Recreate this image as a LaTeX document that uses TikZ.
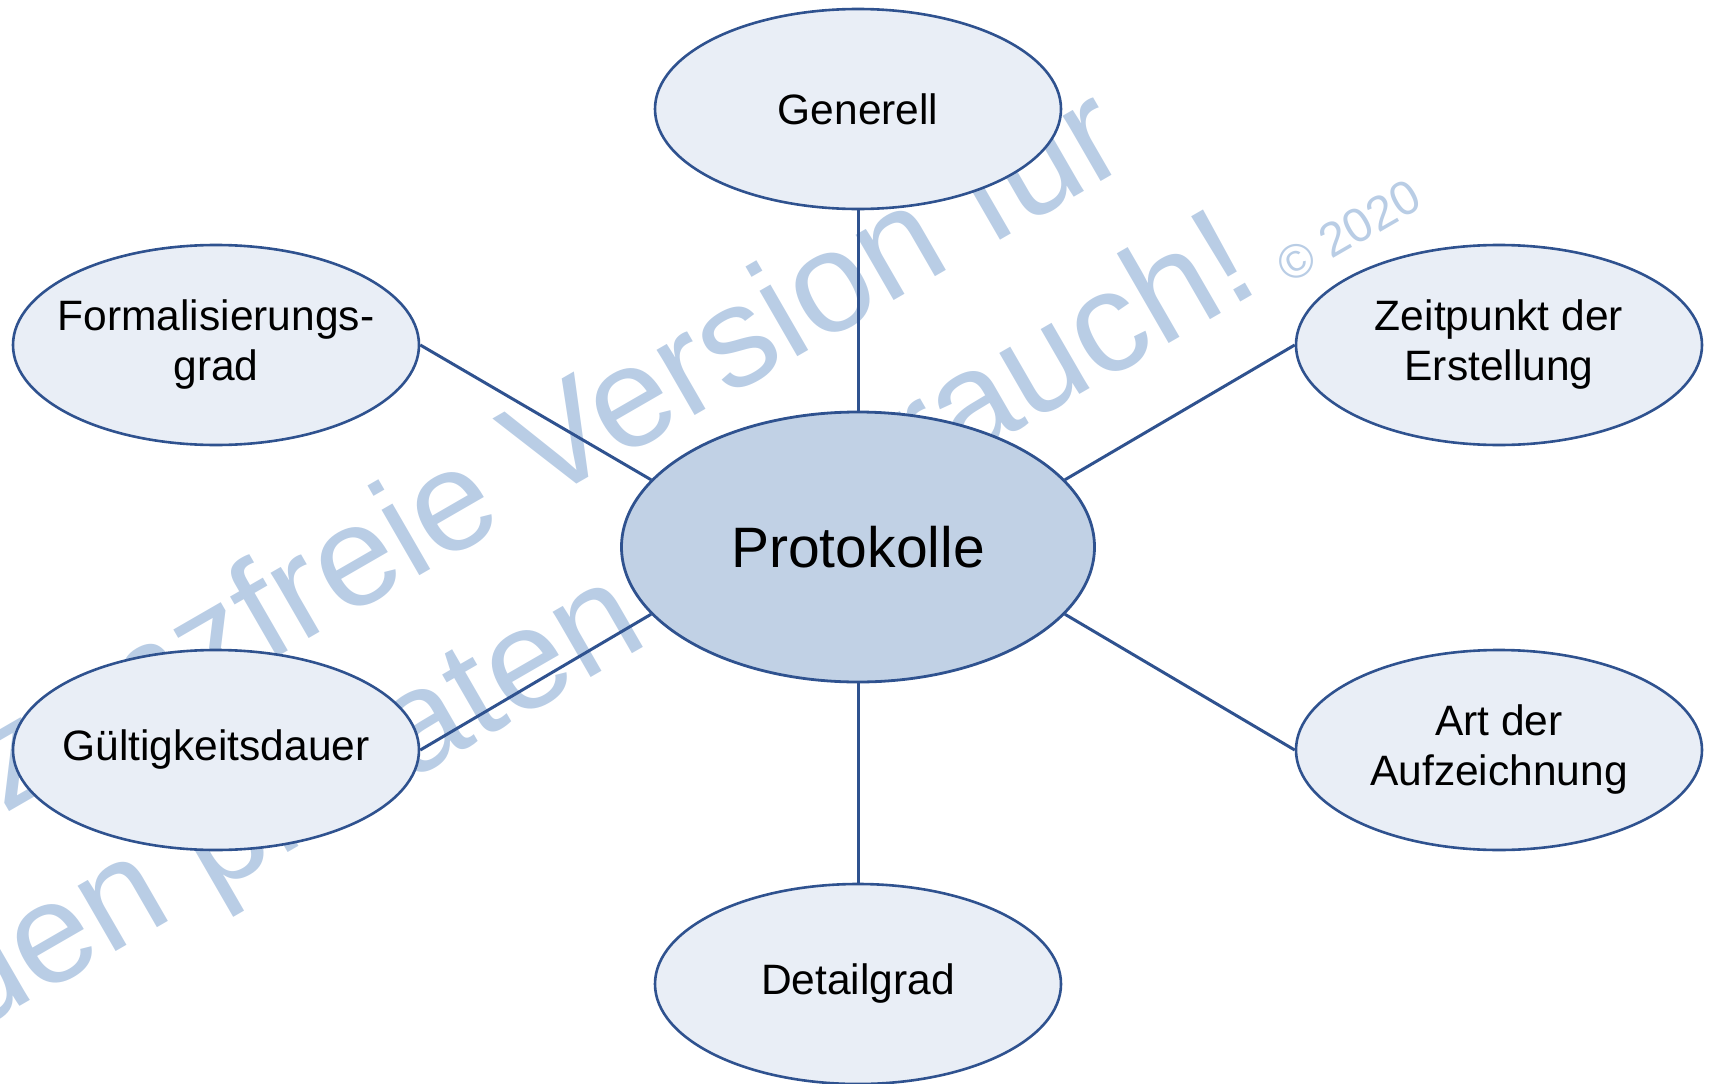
\documentclass[tikz,border=0pt]{standalone}
\usepackage{fontspec}
\setmainfont{Liberation Sans}
\usetikzlibrary{shapes.geometric}

\definecolor{rim}{HTML}{2F528F}
\definecolor{leaffill}{HTML}{E9EEF6}
\definecolor{hubfill}{HTML}{C1D1E5}
\definecolor{wmtext}{HTML}{B9CDE5}

\begin{document}
\begin{tikzpicture}[x=1pt,y=-1pt,
  every node/.style={ellipse,draw=rim,line width=2.6pt,inner sep=0pt,align=center},
  leaf/.style={fill=leaffill,inner xsep=-120pt,minimum width=406pt,minimum height=200pt,font=\fontsize{42.5}{50}\selectfont},
  hub/.style={fill=hubfill,line width=2.8pt,minimum width=473pt,minimum height=270pt,font=\fontsize{57}{66}\selectfont},
  wmark/.style={draw=none,rectangle,text=wmtext,rotate=30,font=\fontsize{143}{165}\selectfont},
  link/.style={draw=rim,line width=3pt}]
\useasboundingbox (0,0) rectangle (1711,1084);

% watermark behind everything
\node[wmark,anchor=base east] (wm1) at (1135,162) {Lizenzfreie Version für};
\node[wmark,anchor=base east] (wm2) at (1265,288) {den privaten Gebrauch!};
\node[wmark,anchor=base west,yshift=-9pt,font=\fontsize{48}{52}\selectfont] (wm3) at (wm2.base east) {\hspace{22pt}© 2020};

\node[leaf]  (gen)    at (858,109)  {Generell};
\node[leaf]  (form)   at (216,345)  {Formalisierungs-\\grad};
\node[leaf]  (zeit)   at (1499,345) {Zeitpunkt der\\Erstellung};
\node[hub]   (prot)   at (858,547)  {Protokolle};
\node[leaf]  (guelt)  at (216,750)  {Gültigkeitsdauer};
\node[leaf]  (art)    at (1499,750) {Art der\\Aufzeichnung};
\node[leaf]  (detail) at (858,984)  {Detailgrad};

\draw[link] (gen) -- (prot);
\draw[link] (form.east) -- (prot.162);
\draw[link] (zeit.west) -- (prot.18);
\draw[link] (guelt.east) -- (prot.198);
\draw[link] (art.west) -- (prot.342);
\draw[link] (detail) -- (prot);
\end{tikzpicture}
\end{document}
